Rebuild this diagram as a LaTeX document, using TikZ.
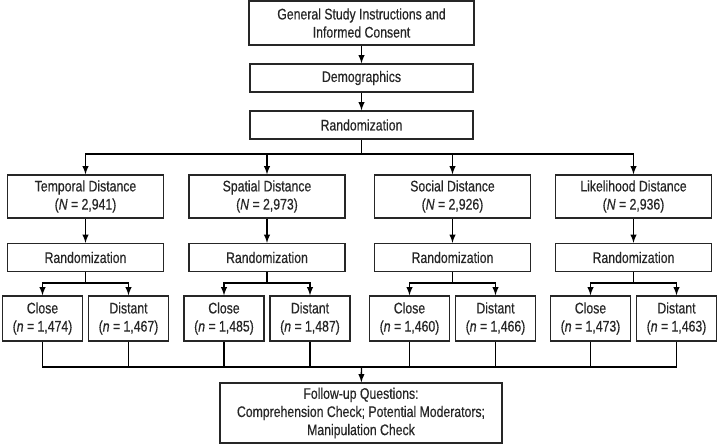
\documentclass[tikz,border=0pt]{standalone}
\usepackage{fontspec}
\setmainfont[FakeStretch=0.8, FakeBold=0.4]{Liberation Sans}

\begin{document}
\begin{tikzpicture}[>=latex, line width=1pt, x=0.025cm, y=-0.025cm,
  box/.style={draw=black!85, text=black!85, fill=white, align=center, inner sep=0pt,
    font=\fontsize{10.9}{12.9}\selectfont},
  condbox/.style={box, minimum width=2cm, minimum height=1.125cm}]
  \useasboundingbox (0,0) rectangle (720,447);

  % --- Start of the study ---
  \node[box, minimum width=5.625cm, minimum height=1.1cm] (consent) at (361.5,23) {General Study Instructions and\\Informed Consent};
  \node[box, minimum width=5.575cm, minimum height=0.7cm] (demo) at (361.5,78) {Demographics};
  \node[box, minimum width=5.575cm, minimum height=0.7cm] (rand) at (361.5,125) {Randomization};
  \draw[->] (consent) -- (demo);
  \draw[->] (demo) -- (rand);

  \coordinate (split) at (361.5,154); % fork to the four distances
  \coordinate (merge) at (361.5,367); % all conditions join here
  \draw (rand) -- (split);

  % --- Four distance conditions ---
  \foreach \d/\x/\title/\N/\nc/\nd in {
      temporal/85.5/Temporal/{2,941}/{1,474}/{1,467},
      spatial/267/Spatial/{2,973}/{1,485}/{1,487},
      social/452.5/Social/{2,926}/{1,460}/{1,466},
      likelihood/633.5/Likelihood/{2,936}/{1,473}/{1,463}} {
    \node[box, minimum width=3.9cm, minimum height=1.075cm] (\d) at (\x,196.5) {\title{} Distance\\(\textit{N} = \N)};
    \node[box, minimum width=3.9cm, minimum height=0.7cm] (\d-rand) at (\x,257.5) {Randomization};
    \node[condbox] (\d-close) at (\x-43,318.5) {Close\\(\textit{n} = \nc)};
    \node[condbox] (\d-dist) at (\x+43,318.5) {Distant\\(\textit{n} = \nd)};
    \coordinate (\d-fork) at (\x,283);
    \draw[->] (split) -| (\d);
    \draw[->] (\d) -- (\d-rand);
    \draw (\d-rand) -- (\d-fork);
    \draw[->] (\d-fork) -| (\d-close);
    \draw[->] (\d-fork) -| (\d-dist);
    \draw (\d-close) |- (merge);
    \draw (\d-dist) |- (merge);
  }

  % --- End of the study ---
  \node[box, minimum width=7.05cm, minimum height=1.5cm] (followup) at (361,413) {Follow-up Questions:\\Comprehension Check; Potential Moderators;\\Manipulation Check};
  \draw[->] (merge) -- (followup);

\end{tikzpicture}
\end{document}
